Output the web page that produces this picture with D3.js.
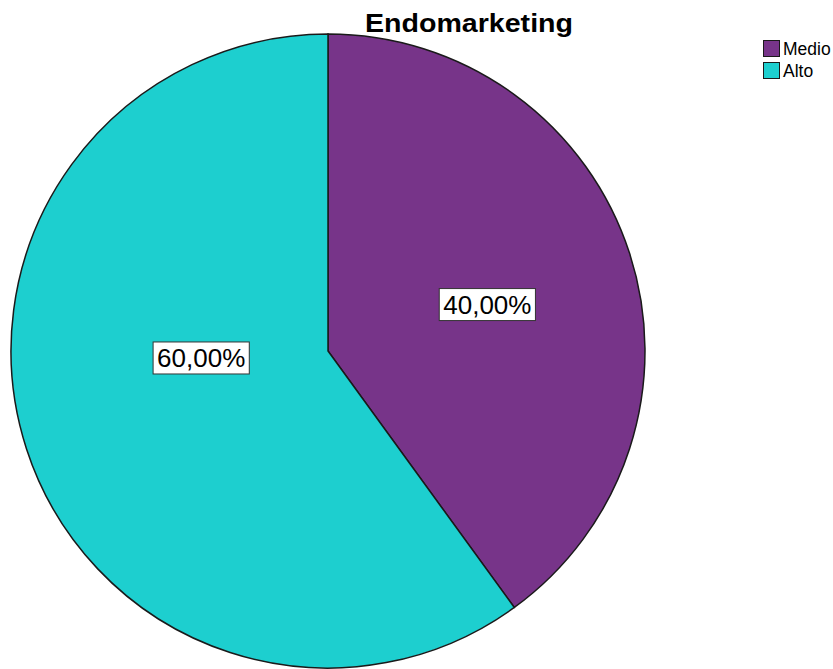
<!DOCTYPE html>
<html><head><meta charset="utf-8">
<script src="https://cdn.jsdelivr.net/npm/d3@7"></script>
<style>body{margin:0;background:#fff}svg{display:block}</style>
</head><body>
<script>
const title = "Endomarketing";
const categories = ["Medio", "Alto"];
const values = [40, 60];
const labels = ["40,00%", "60,00%"];
const colors = ["#773489", "#1dcfcf"];

const W = 833, H = 669;
const svg = d3.select("body").append("svg").attr("width", W).attr("height", H);
const cx = 328, cy = 351, R = 317;

const pie = d3.pie().sort(null).value(d => d)(values);
const arc = d3.arc().innerRadius(0).outerRadius(R);
const g = svg.append("g").attr("transform", `translate(${cx},${cy})`);
g.selectAll("path").data(pie).join("path")
  .attr("d", arc).attr("fill", (d, i) => colors[i])
  .attr("stroke", "#1a1a1a").attr("stroke-width", 1.5);

// label placement (SPSS-like)
const labelR = [166, 127];
const labelAngleShift = [0.03, 0.26];
pie.forEach((d, i) => {
  const a = (d.startAngle + d.endAngle) / 2 + labelAngleShift[i];
  const x = labelR[i] * Math.sin(a), y = -labelR[i] * Math.cos(a);
  const lg = g.append("g").attr("transform", `translate(${x},${y})`);
  const t = lg.append("text").attr("text-anchor", "middle").attr("dy", "0.35em")
    .attr("font-family", "Liberation Sans, Arial, sans-serif").attr("font-size", 26)
    .attr("fill", "#000").text(labels[i]);
  const bb = t.node().getBBox();
  lg.insert("rect", "text").attr("x", bb.x - 4).attr("y", bb.y - 1)
    .attr("width", bb.width + 8).attr("height", bb.height + 2)
    .attr("fill", "#fff").attr("stroke", "#333").attr("stroke-width", 1);
});

svg.append("text").attr("x", 469).attr("y", 32).attr("text-anchor", "middle")
  .attr("font-family", "Liberation Sans, Arial, sans-serif").attr("font-weight", "bold")
  .attr("font-size", 25).attr("textLength", 208).attr("lengthAdjust", "spacingAndGlyphs")
  .text(title);

const leg = svg.append("g").attr("transform", "translate(763,40)");
categories.forEach((c, i) => {
  const r = leg.append("g").attr("transform", `translate(0,${i * 22})`);
  r.append("rect").attr("x", 0.5).attr("y", 0.5).attr("width", 16).attr("height", 16)
    .attr("fill", colors[i]).attr("stroke", "#1a1a1a").attr("stroke-width", 1);
  r.append("text").attr("x", 20).attr("y", 15)
    .attr("font-family", "Liberation Sans, Arial, sans-serif").attr("font-size", 17.5)
    .attr("fill", "#000").text(c);
});
</script>
</body></html>
